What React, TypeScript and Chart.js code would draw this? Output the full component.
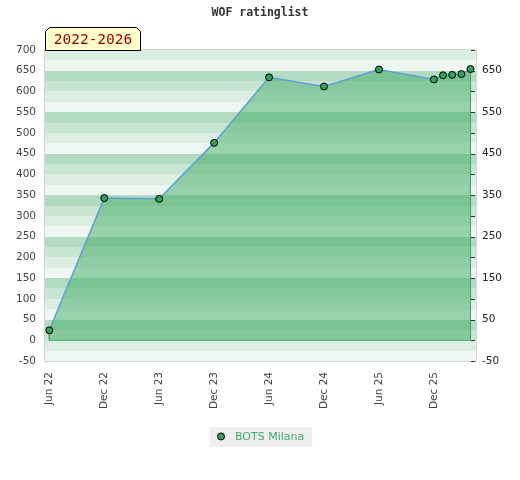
import React, { useEffect, useRef } from "react";
import { Chart, registerables } from "chart.js";

Chart.register(...registerables);

// ---- data ----
const TITLE = "WOF ratinglist";
const PERIOD_LABEL = "2022-2026";
const SERIES_NAME = "BOTS Milana";
// months since Jun 2022
const months = [0, 6, 12, 18, 24, 30, 36, 42, 43, 44, 45, 46];
const ratings = [24, 343, 341, 476, 634, 612, 653, 629, 639, 640, 642, 654];
const tickMonths = [0, 6, 12, 18, 24, 30, 36, 42];
const tickLabels = ["Jun 22", "Dec 22", "Jun 23", "Dec 23", "Jun 24", "Dec 24", "Jun 25", "Dec 25"];
const Y_MIN = -50;
const Y_MAX = 700;
const Y_STEP = 50;
const X_MIN = -0.47;
const X_MAX = 46.6;

// ---- styles ----
const FONT = "'DejaVu Sans', sans-serif";
const MONO = "'DejaVu Sans Mono', monospace";
const BAND = { A: "#dcede2", B: "#eef7f1", C: "#b3dbc2", D: "#c8e5d3" };
const LINE_BLUE = "rgb(95,158,215)";
const EDGE_GREEN = "rgb(62,165,95)";
const POINT_GREEN = "rgb(52,160,92)";
const FILL_GREEN = "rgba(66,173,101,0.5)";
const LEGEND_TEXT = "rgb(60,175,105)";

const decor = {
  id: "decor",
  beforeDraw(chart: any) {
    const { ctx, chartArea: a, scales } = chart;
    const y = scales.y;
    ctx.save();
    ctx.fillStyle = "#ffffff";
    ctx.fillRect(0, 0, chart.width, chart.height);
    for (let v = Y_MIN; v < Y_MAX; v += 25) {
      const m = ((v % 100) + 100) % 100;
      const color = m === 75 ? BAND.A : m === 50 ? BAND.B : m === 25 ? BAND.C : BAND.D;
      const yTop = Math.round(y.getPixelForValue(v + 25));
      const yBot = Math.round(y.getPixelForValue(v));
      ctx.fillStyle = color;
      ctx.fillRect(a.left, yTop, a.right - a.left, yBot - yTop);
    }
    ctx.strokeStyle = "#d4d4d4";
    ctx.lineWidth = 1;
    ctx.strokeRect(Math.round(a.left) - 0.5, Math.round(a.top) - 0.5, Math.round(a.right - a.left) + 1, Math.round(a.bottom - a.top) + 1);
    ctx.restore();
  },
  afterDraw(chart: any) {
    const { ctx, chartArea: a, scales } = chart;
    const y = scales.y;
    ctx.save();
    // right axis small tick marks
    ctx.strokeStyle = "#333";
    ctx.lineWidth = 1;
    for (let v = Y_MIN; v <= Y_MAX; v += Y_STEP) {
      const py = Math.round(y.getPixelForValue(v)) + 0.5;
      ctx.beginPath();
      ctx.moveTo(a.right - 5, py);
      ctx.lineTo(a.right - 1, py);
      ctx.stroke();
    }
    // title
    ctx.fillStyle = "#333";
    ctx.font = "bold 11.5px " + MONO;
    ctx.textAlign = "center";
    ctx.textBaseline = "middle";
    ctx.fillText(TITLE, 260, 13);
    // period badge
    const bx = 45.5, by = 27.5, bw = 95, bh = 23, c = 4;
    ctx.beginPath();
    ctx.moveTo(bx, by + bh);
    ctx.lineTo(bx, by + c);
    ctx.lineTo(bx + c, by);
    ctx.lineTo(bx + bw - c, by);
    ctx.lineTo(bx + bw, by + c);
    ctx.lineTo(bx + bw, by + bh);
    ctx.closePath();
    ctx.fillStyle = "#ffffcc";
    ctx.fill();
    ctx.strokeStyle = "#000";
    ctx.stroke();
    ctx.fillStyle = "#990000";
    ctx.font = "14.5px " + MONO;
    ctx.textAlign = "center";
    ctx.textBaseline = "middle";
    ctx.fillText(PERIOD_LABEL, bx + bw / 2, by + bh / 2 + 1);
    // legend
    ctx.fillStyle = "#eeeeee";
    ctx.fillRect(210, 427, 102, 20);
    ctx.beginPath();
    ctx.arc(221, 436.5, 3.5, 0, Math.PI * 2);
    ctx.fillStyle = POINT_GREEN;
    ctx.fill();
    ctx.strokeStyle = "#000";
    ctx.stroke();
    ctx.fillStyle = LEGEND_TEXT;
    ctx.font = "11px " + FONT;
    ctx.textAlign = "left";
    ctx.textBaseline = "middle";
    ctx.fillText(SERIES_NAME, 235, 437);
    ctx.restore();
  },
};

export default function App() {
  const ref = useRef<HTMLCanvasElement | null>(null);
  useEffect(() => {
    if (!ref.current) return;
    const points = months.map((m, i) => ({ x: m, y: ratings[i] }));
    const first = 0;
    const last = months.length - 1;
    const edge = [
      { x: months[first], y: ratings[first] },
      { x: months[first], y: 0 },
      { x: months[last], y: 0 },
      { x: months[last], y: ratings[last] },
    ];
    const chart = new Chart(ref.current, {
      type: "line",
      data: {
        datasets: [
          {
            label: SERIES_NAME,
            data: points,
            order: 0,
            borderColor: LINE_BLUE,
            borderWidth: 1.5,
            backgroundColor: FILL_GREEN,
            fill: "origin",
            tension: 0,
            pointRadius: 3.5,
            pointBackgroundColor: POINT_GREEN,
            pointBorderColor: "#000",
            pointBorderWidth: 1,
          },
          {
            label: "edge",
            data: edge,
            order: 1,
            borderColor: EDGE_GREEN,
            borderWidth: 1,
            fill: false,
            pointRadius: 0,
            tension: 0,
          },
        ],
      },
      options: {
        responsive: false,
        animation: false,
        devicePixelRatio: 1,
        layout: { padding: { top: 50, bottom: 0, left: 0, right: 0 } },
        plugins: {
          legend: { display: false },
          title: { display: false },
          tooltip: { enabled: false },
        },
        scales: {
          x: {
            type: "linear",
            min: X_MIN,
            max: X_MAX,
            grid: { display: false, drawTicks: false },
            border: { display: false },
            afterBuildTicks: (s: any) => {
              s.ticks = tickMonths.map((v) => ({ value: v }));
            },
            afterFit: (s: any) => {
              s.height = 119;
            },
            ticks: {
              autoSkip: false,
              maxRotation: 90,
              minRotation: 90,
              padding: 11,
              color: "#444",
              font: { family: FONT, size: 10.5 },
              callback: (v: any) => {
                const i = tickMonths.indexOf(Number(v));
                return i >= 0 ? tickLabels[i] : "";
              },
            },
          },
          y: {
            type: "linear",
            position: "left",
            min: Y_MIN,
            max: Y_MAX,
            grid: { display: false, drawTicks: false },
            border: { display: false },
            afterFit: (s: any) => {
              s.width = 45;
            },
            ticks: {
              stepSize: Y_STEP,
              padding: 9,
              color: "#444",
              font: { family: FONT, size: 10.5 },
            },
          },
          y2: {
            type: "linear",
            position: "right",
            min: Y_MIN,
            max: Y_MAX,
            grid: { display: false, drawTicks: false },
            border: { display: false },
            afterFit: (s: any) => {
              s.width = 44;
            },
            ticks: {
              stepSize: Y_STEP,
              padding: 6,
              color: "#222",
              font: { family: FONT, size: 10.5 },
              callback: (v: any) => {
                const n = Number(v);
                return ((n % 100) + 100) % 100 === 50 ? String(n) : "";
              },
            },
          },
        },
      },
      plugins: [decor],
    } as any);
    return () => chart.destroy();
  }, []);
  return (
    <div style={{ position: "absolute", left: 0, top: 0, width: 520, height: 480 }}>
      <canvas ref={ref} width={520} height={480} />
    </div>
  );
}
